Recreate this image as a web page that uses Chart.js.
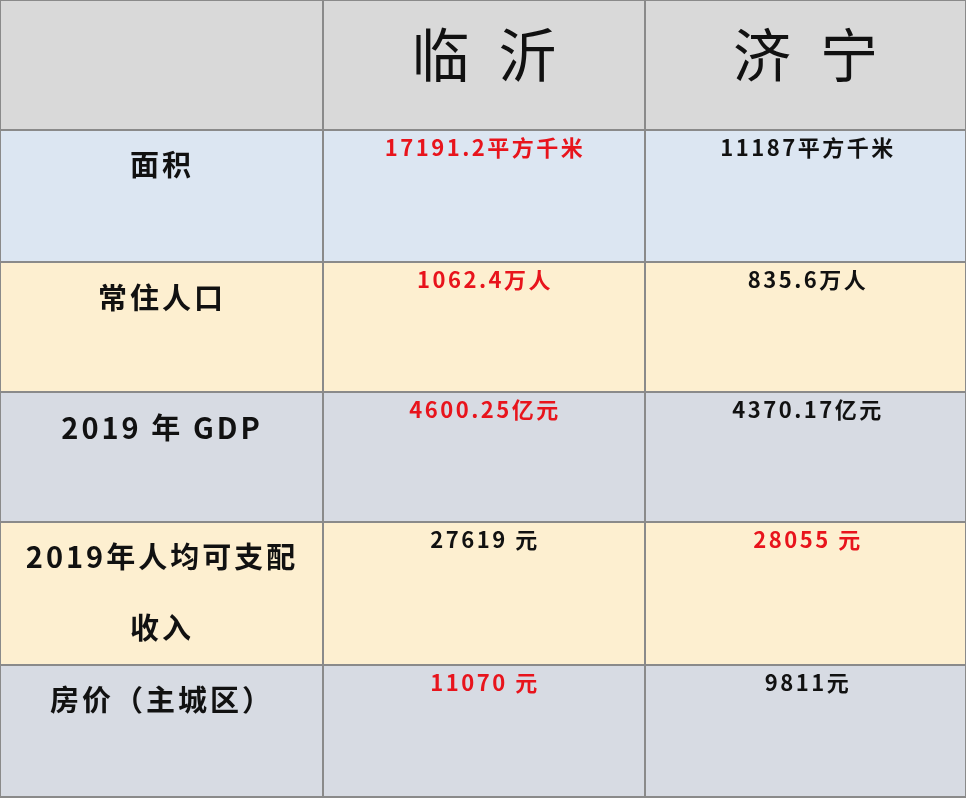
<!DOCTYPE html>
<html>
<head>
<meta charset="utf-8">
<script src="https://cdn.jsdelivr.net/npm/chart.js@4"></script>
<style>
  body { margin: 0; background: #fff; }
  #wrap { width: 966px; height: 800px; }
</style>
</head>
<body>
<div id="wrap"><canvas id="table-chart"></canvas></div>
<script>
// table content
const headers = ["", "临 沂", "济 宁"];
const rowLabels = [["面积"], ["常住人口"], ["2019 年 GDP"], ["2019年人均可支配", "收入"], ["房价（主城区）"]];
const linyi = ["17191.2平方千米", "1062.4万人", "4600.25亿元", "27619 元", "11070 元"];
const jining = ["11187平方千米", "835.6万人", "4370.17亿元", "28055 元", "9811元"];
const linyiRed = [true, true, true, false, true];
const jiningRed = [false, false, false, true, false];

// grid lines (in table units)
const rowBounds = [0, 130, 262, 392, 522, 665, 797];
const colBounds = [0, 323, 645, 966];
const rowColors = ["#d9d9d9", "#dce6f2", "#fdefd0", "#d7dbe3", "#fdefd0", "#d7dbe3"];

const tablePlugin = {
    id: "tablePlugin",
    beforeDatasetsDraw(chart) {
        const ctx = chart.ctx;
        const x = chart.scales.x, y = chart.scales.y;
        const px = v => x.getPixelForValue(v);
        const py = v => y.getPixelForValue(v);
        ctx.save();
        // cell backgrounds
        for (let r = 0; r < rowBounds.length - 1; r++) {
            ctx.fillStyle = rowColors[r];
            ctx.fillRect(px(0), py(rowBounds[r]), px(966) - px(0), py(rowBounds[r + 1]) - py(rowBounds[r]));
        }
        // borders
        ctx.strokeStyle = "#8a8a8a";
        ctx.lineWidth = 2;
        for (const rb of rowBounds) {
            ctx.beginPath(); ctx.moveTo(px(0), py(rb)); ctx.lineTo(px(966), py(rb)); ctx.stroke();
        }
        for (const cb of colBounds) {
            ctx.beginPath(); ctx.moveTo(px(cb), py(0)); ctx.lineTo(px(cb), py(797)); ctx.stroke();
        }
        ctx.textAlign = "center";
        ctx.textBaseline = "middle";
        // headers
        ctx.fillStyle = "#111";
        ctx.font = "58px 'Noto Sans CJK SC'";
        ctx.letterSpacing = "8px";
        for (let c = 1; c < 3; c++) {
            ctx.fillText(headers[c], px((colBounds[c] + colBounds[c + 1]) / 2) + 4, py(55));
        }
        // rows
        const labelY = [[165], [298], [428], [557, 628], [700]];
        for (let r = 0; r < rowLabels.length; r++) {
            const top = rowBounds[r + 1];
            ctx.font = "bold 29px 'Noto Sans CJK SC'";
            ctx.letterSpacing = "3px";
            ctx.fillStyle = "#111";
            rowLabels[r].forEach((t, i) => ctx.fillText(t, px(162), py(labelY[r][i])));
            ctx.font = "bold 22px 'Noto Sans CJK SC'";
            ctx.letterSpacing = "2.5px";
            ctx.fillStyle = linyiRed[r] ? "#e8141c" : "#111";
            ctx.fillText(linyi[r], px(485), py(top + 18));
            ctx.fillStyle = jiningRed[r] ? "#e8141c" : "#111";
            ctx.fillText(jining[r], px(808), py(top + 18));
        }
        ctx.restore();
    }
};

new Chart(document.getElementById("table-chart"), {
    type: "scatter",
    data: { datasets: [{ data: [] }] },
    options: {
        responsive: true,
        maintainAspectRatio: false,
        animation: false,
        layout: { padding: 0 },
        plugins: { legend: { display: false }, tooltip: { enabled: false } },
        scales: {
            x: { type: "linear", min: 0, max: 966, display: false },
            y: { type: "linear", min: 0, max: 800, reverse: true, display: false }
        }
    },
    plugins: [tablePlugin]
});
</script>
</body>
</html>
